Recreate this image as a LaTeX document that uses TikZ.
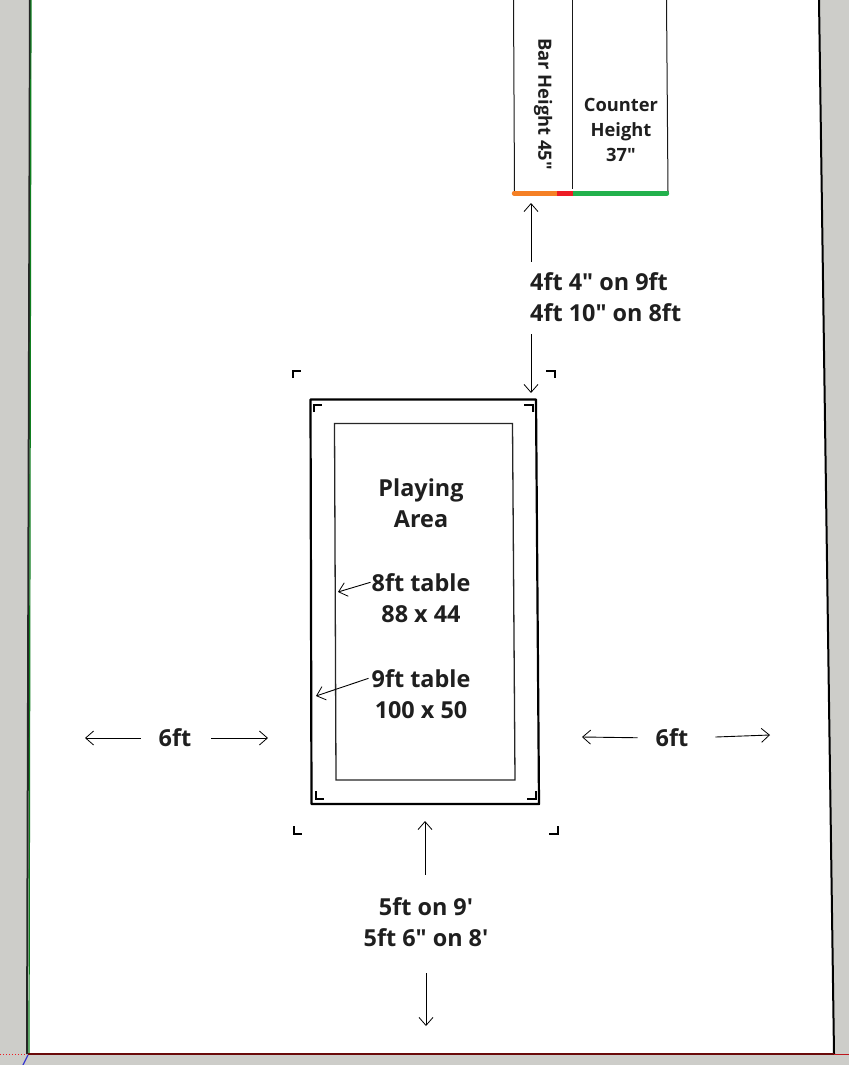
\documentclass[tikz,border=0pt]{standalone}
\usepackage{fontspec}
\setmainfont{Open Sans}[Ligatures=TeXOff]
\usetikzlibrary{arrows.meta}
\definecolor{canvasgray}{HTML}{CDCDC9}
\definecolor{inkdark}{HTML}{1F1F1F}
\definecolor{axisgreen}{HTML}{0F7F1F}
\definecolor{axisred}{HTML}{6A0A0A}
\definecolor{axisblue}{HTML}{3A3AD0}
\definecolor{barorange}{HTML}{F58025}
\definecolor{barred}{HTML}{ED1C24}
\definecolor{bargreen}{HTML}{22B14C}
\tikzset{
  x=1pt,y=-1pt,
  lbl/.style={inner sep=0pt,align=center,text=inkdark,font=\fontsize{23.4}{31.5}\selectfont\bfseries},
  lblsmall/.style={inner sep=0pt,align=center,text=inkdark,font=\fontsize{18.3}{25}\selectfont\bfseries},
  arr/.style={draw=black,line width=0.9pt,-{Straight Barb[length=8pt,width=14pt,line width=0.8pt]}},
  mark corner/.style={draw=black,line width=2pt,line cap=butt,line join=miter},
  tableedge/.style={draw=black,line width=2.2pt,line join=round},
  areaedge/.style={draw=black!85,line width=1.3pt},
  wallline/.style={draw=black!90,line width=1pt},
}
\begin{document}
\begin{tikzpicture}
\useasboundingbox (0,0) rectangle (849,1065);
\fill[canvasgray] (0,0) rectangle (849,1065);
% floor
\fill[white] (31,0) -- (28,1054) -- (834,1054) -- (819,0) -- cycle;
\draw[draw=black!85,line width=2pt] (30,0) -- (27,1054);
\draw[axisgreen,line width=1.2pt] (31,0) -- (29,1053);
\draw[draw=black,line width=2pt] (819,0) -- (834,1054);
\draw[axisred,line width=2.4pt] (28,1054) -- (834,1054);
\draw[barred!80!black,line width=0.8pt] (834,1054) -- (849,1054);
\draw[barred,line width=1pt,dotted] (0,1054) -- (27,1054);
\draw[axisblue,line width=1.2pt] (28,1055) -- (23,1065);
% bar
\draw[wallline] (513.5,0) -- (514.5,192);
\draw[wallline] (572.5,0) -- (572.5,189);
\draw[wallline] (666.5,0) -- (668,192);
\draw[barorange,line width=4.4pt,line cap=round] (514,193.3) -- (557,193.3);
\draw[bargreen,line width=4.4pt,line cap=round] (573,193.3) -- (667,193.3);
\draw[barred,line width=4.4pt] (557,193.3) -- (573,193.3);
\coordinate (barfoot) at (531,203);
% table
\draw[tableedge] (310.5,399.5) -- (536,399.5) -- (539,804) -- (311.5,804) -- cycle;
\draw[areaedge] (334.5,423.5) -- (512.5,423.5) -- (515,780) -- (336,780) -- cycle;
% corner marks
\draw[mark corner] (293,378) -- (293,370.5) -- (301,370.5);
\draw[mark corner] (546,370.5) -- (554.5,370.5) -- (554.5,378);
\draw[mark corner] (294,826) -- (294,833.5) -- (302,833.5);
\draw[mark corner] (549,833.5) -- (558,833.5) -- (558,826);
\draw[mark corner] (314,412) -- (314,404.5) -- (322,404.5);
\draw[mark corner] (524,404.5) -- (532.5,404.5) -- (532.5,412);
\draw[mark corner] (316,791) -- (316,799) -- (324,799);
\draw[mark corner] (527,799) -- (535.5,799) -- (535.5,791);
% labels
\node[lblsmall,rotate=-90] (barlabel) at (543,104) {Bar Height 45"};
\node[lblsmall] (counterlabel) at (621,130) {Counter\\Height\\37"};
\node[lbl,align=left,anchor=west] (gaplabel) at (530,297) {4ft 4" on 9ft\\4ft 10" on 8ft};
\node[lbl] (playing) at (421,503) {Playing\\Area};
\node[lbl] (eightft) at (421,598) {8ft table\\88 x 44};
\node[lbl] (nineft) at (421,694) {9ft table\\100 x 50};
\node[lbl] (sixleft) at (175,738) {6ft};
\node[lbl] (sixright) at (672,738) {6ft};
\node[lbl] (fiveft) at (426,922) {5ft on 9'\\5ft 6" on 8'};
% arrow ends
\coordinate (tabletop) at (531,393);
\coordinate (leftend) at (85,738);
\coordinate (leftin) at (268,738);
\coordinate (rightin) at (582,737);
\coordinate (rightend) at (770,735);
\coordinate (bottomin) at (425,821);
\coordinate (bottomend) at (426,1026);
\coordinate (eightmark) at (338,592);
\coordinate (ninemark) at (316,696);
% connectors
\draw[arr,shorten <=10pt] (barfoot |- gaplabel.north) -- (barfoot);
\draw[arr,shorten <=12pt] (tabletop |- gaplabel.south) -- (tabletop);
\draw[arr,shorten <=18pt] (sixleft.west) -- (leftend);
\draw[arr,shorten <=20pt] (sixleft.east) -- (leftin);
\draw[arr,shorten <=18pt] (sixright.west) -- (rightin);
\draw[arr,shorten <=27pt] (sixright.east) -- (rightend);
\draw[arr,shorten <=22pt] (bottomin |- fiveft.north) -- (bottomin);
\draw[arr,shorten <=26pt] (bottomend |- fiveft.south) -- (bottomend);
\draw[arr,shorten <=1pt] ([yshift=16pt]eightft.west) -- (eightmark);
\draw[arr,shorten <=1pt] ([yshift=16pt,xshift=-2pt]nineft.west) -- (ninemark);
\end{tikzpicture}
\end{document}
